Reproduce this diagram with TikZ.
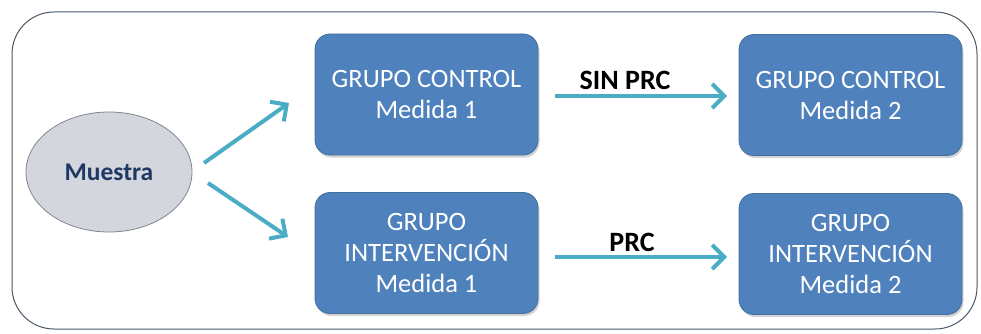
\documentclass[tikz,border=0pt]{standalone}
\usepackage{fontspec}
\setmainfont{Carlito}
\usetikzlibrary{arrows.meta,shapes.geometric,shadows}
\definecolor{boxblue}{HTML}{4F81BD}
\definecolor{boxedge}{HTML}{41719C}
\definecolor{arrteal}{HTML}{4BACC6}
\definecolor{ellfill}{HTML}{D3D6DC}
\definecolor{elledge}{HTML}{7F8590}
\definecolor{navy}{HTML}{1F3864}
\definecolor{frame}{HTML}{4A5868}
\tikzset{
  grp/.style={draw=boxedge, line width=0.8pt, fill=boxblue, rounded corners=15pt,
    minimum width=223pt, minimum height=121pt, align=center, text=white,
    font=\fontsize{26.5}{31}\selectfont, inner sep=0pt,
    drop shadow={shadow xshift=1.5pt, shadow yshift=-2.5pt, opacity=0.35}},
  flow/.style={draw=arrteal, line width=4pt, -{Straight Barb[length=12pt,width=24pt,line width=4pt]}},
  lbl/.style={font=\fontsize{28}{30}\selectfont\bfseries, text=black, inner sep=0pt}
}
\begin{document}
\begin{tikzpicture}[x=1pt,y=-1pt]
\useasboundingbox (0,0) rectangle (981,334);
\draw[frame, line width=1pt, rounded corners=42pt] (12,12) rectangle (977,329);
\node[ellipse, draw=elledge, line width=0.8pt, fill=ellfill, minimum width=166pt, minimum height=120pt,
  font=\fontsize{25.5}{30}\selectfont\bfseries, text=navy, inner sep=0pt] (m) at (109,172) {Muestra};
\node[grp] (c1) at (426.5,94.5) {GRUPO CONTROL\\Medida 1};
\node[grp] (i1) at (426.5,253) {GRUPO\\INTERVENCIÓN\\Medida 1};
\node[grp] (c2) at (850.5,95) {GRUPO CONTROL\\Medida 2};
\node[grp] (i2) at (850.5,254) {GRUPO\\INTERVENCIÓN\\Medida 2};
\coordinate (a1s) at (204,163);
\coordinate (a1e) at (289,103);
\coordinate (a2s) at (208,183);
\coordinate (a2e) at (288,237);
\draw[flow] (a1s) -- (a1e);
\draw[flow] (a2s) -- (a2e);
\coordinate (h1s) at (555,96);
\coordinate (h1e) at (727,96);
\coordinate (h2s) at (555,257);
\coordinate (h2e) at (727,257);
\draw[flow] (h1s) -- (h1e);
\draw[flow] (h2s) -- (h2e);
\node[lbl] (l1) at (625,80) {SIN PRC};
\node[lbl] (l2) at (632,242) {PRC};
\end{tikzpicture}
\end{document}
